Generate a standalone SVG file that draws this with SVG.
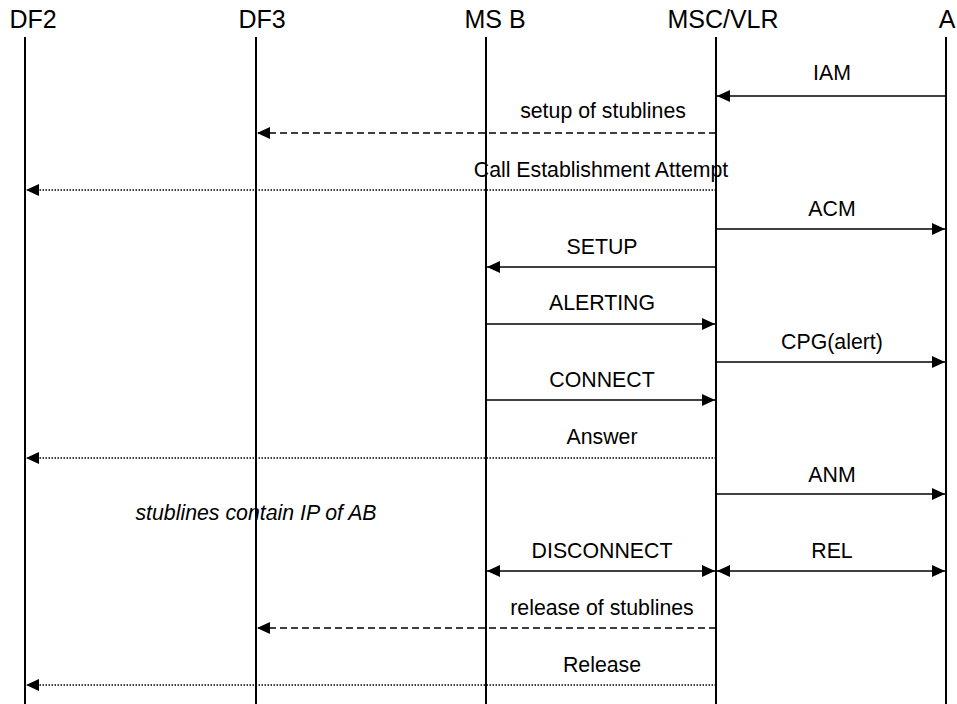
<svg xmlns="http://www.w3.org/2000/svg" width="957" height="704" viewBox="0 0 957 704">
<style>
.hd{font-family:"Liberation Sans",Arial,sans-serif;font-size:25px;fill:#000;text-anchor:middle}
.lb{font-family:"Liberation Sans",Arial,sans-serif;font-size:21.3px;fill:#000;text-anchor:middle}
.it{font-style:italic}
.life{stroke:#000;stroke-width:2}
.msg{stroke:#000;stroke-width:1.7;fill:none}
.dash{stroke-dasharray:7 4}
.dot{stroke-width:1.4;stroke-dasharray:1.5 1.5}
</style>
<defs>
<marker id="ah" viewBox="0 0 13 12" refX="13" refY="6" markerWidth="13" markerHeight="12" markerUnits="userSpaceOnUse" orient="auto-start-reverse">
<path d="M0,0 L13,6 L0,12 Z" fill="#000"/>
</marker>
</defs>
<rect width="957" height="704" fill="#fff"/>
<g id="node-DF2"><text class="hd" x="33" y="28">DF2</text><line class="life" x1="25" y1="37" x2="25" y2="704"/></g>
<g id="node-DF3"><text class="hd" x="262" y="28">DF3</text><line class="life" x1="256" y1="37" x2="256" y2="704"/></g>
<g id="node-MSB"><text class="hd" x="495" y="28">MS B</text><line class="life" x1="486" y1="37" x2="486" y2="704"/></g>
<g id="node-MSC"><text class="hd" x="723" y="28">MSC/VLR</text><line class="life" x1="716" y1="37" x2="716" y2="704"/></g>
<g id="node-A"><text class="hd" x="947" y="28">A</text><line class="life" x1="946" y1="37" x2="946" y2="704"/></g>
<g id="connectors">
<line class="msg" x1="946" y1="96" x2="717" y2="96" marker-end="url(#ah)"/>
<line class="msg dash" x1="716" y1="133" x2="257" y2="133" marker-end="url(#ah)"/>
<line class="msg dot" x1="716" y1="190" x2="26" y2="190" marker-end="url(#ah)"/>
<line class="msg" x1="716" y1="229" x2="945" y2="229" marker-end="url(#ah)"/>
<line class="msg" x1="716" y1="267" x2="487" y2="267" marker-end="url(#ah)"/>
<line class="msg" x1="486" y1="324" x2="715" y2="324" marker-end="url(#ah)"/>
<line class="msg" x1="716" y1="362" x2="945" y2="362" marker-end="url(#ah)"/>
<line class="msg" x1="486" y1="400" x2="715" y2="400" marker-end="url(#ah)"/>
<line class="msg dot" x1="716" y1="458" x2="26" y2="458" marker-end="url(#ah)"/>
<line class="msg" x1="716" y1="494" x2="945" y2="494" marker-end="url(#ah)"/>
<line class="msg" x1="487" y1="571" x2="715" y2="571" marker-start="url(#ah)" marker-end="url(#ah)"/>
<line class="msg" x1="717" y1="571" x2="945" y2="571" marker-start="url(#ah)" marker-end="url(#ah)"/>
<line class="msg dash" x1="716" y1="628" x2="257" y2="628" marker-end="url(#ah)"/>
<line class="msg dot" x1="716" y1="685" x2="26" y2="685" marker-end="url(#ah)"/>
</g>
<g id="labels">
<text class="lb" x="832" y="80">IAM</text>
<text class="lb" x="603" y="118">setup of stublines</text>
<text class="lb" x="601" y="177">Call Establishment Attempt</text>
<text class="lb" x="832" y="216">ACM</text>
<text class="lb" x="602" y="254">SETUP</text>
<text class="lb" x="602" y="310">ALERTING</text>
<text class="lb" x="832" y="349">CPG(alert)</text>
<text class="lb" x="602" y="387">CONNECT</text>
<text class="lb" x="602" y="444">Answer</text>
<text class="lb" x="832" y="482">ANM</text>
<text class="lb it" x="256" y="520">stublines contain IP of AB</text>
<text class="lb" x="602" y="558">DISCONNECT</text>
<text class="lb" x="832" y="558">REL</text>
<text class="lb" x="602" y="615">release of stublines</text>
<text class="lb" x="602" y="672">Release</text>
</g>
</svg>
